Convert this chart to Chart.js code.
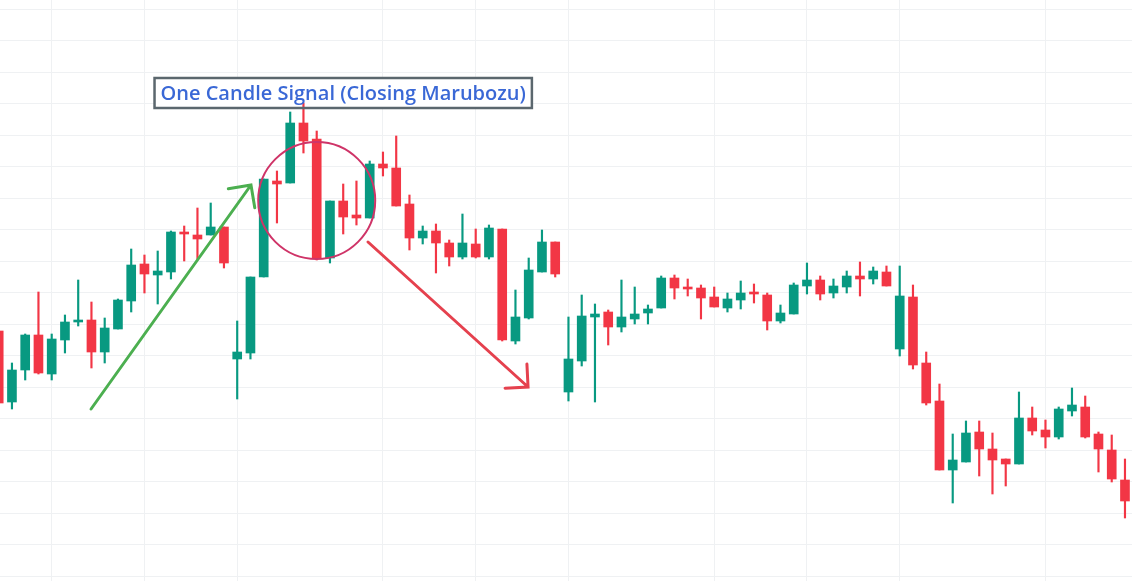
<!DOCTYPE html>
<html>
<head>
<meta charset="utf-8">
<script src="https://cdn.jsdelivr.net/npm/chart.js@4.4.1/dist/chart.umd.min.js"></script>
<style>
  html, body { margin: 0; padding: 0; background: #fff; }
  #wrap { width: 1132px; height: 581px; }
</style>
</head>
<body>
<div id="wrap"><canvas id="candle_chart"></canvas></div>
<script>
// OHLC per session
const open_prices = [
  26.9, 19.8, 23.0, 26.5, 22.6, 26.0, 27.8, 28.0, 24.8, 27.1,
  29.9, 33.6, 32.5, 32.8, 36.7, 36.5, 36.5, 37.3, 24.1, 24.7,
  32.3, 41.9, 41.7, 47.7, 46.1, 34.2, 39.9, 38.5, 38.2, 43.6,
  43.2, 39.6, 36.2, 36.9, 35.7, 34.3, 35.6, 34.3, 37.1, 25.9,
  28.2, 32.8, 35.8, 20.8, 23.9, 28.3, 28.8, 27.3, 28.1, 28.7,
  29.2, 32.2, 31.3, 31.2, 30.3, 29.2, 30.0, 30.7, 30.5, 27.9,
  28.6, 31.4, 32.0, 30.7, 31.3, 32.4, 32.1, 32.8, 25.1, 30.3,
  23.7, 19.9, 13.0, 13.8, 16.8, 15.1, 14.1, 13.6, 18.2, 17.0,
  16.3, 18.9, 19.3, 16.6, 15.0, 12.0
];
const high_prices = [
  27.3, 23.7, 26.6, 30.8, 26.6, 28.5, 32.0, 29.8, 28.2, 30.1,
  35.1, 34.5, 34.9, 36.9, 37.4, 39.2, 39.7, 37.3, 27.9, 32.3,
  42.1, 42.9, 48.8, 49.7, 46.9, 39.9, 41.6, 41.9, 43.9, 44.8,
  46.4, 40.5, 37.4, 37.6, 36.0, 38.6, 37.1, 37.5, 37.1, 31.0,
  34.2, 37.0, 35.8, 28.3, 30.5, 29.6, 29.0, 32.0, 31.3, 29.5,
  32.4, 32.5, 32.1, 31.5, 31.3, 30.7, 31.9, 31.6, 30.7, 29.5,
  31.7, 33.7, 32.4, 32.1, 32.9, 33.8, 33.3, 33.4, 33.4, 31.5,
  24.8, 21.6, 16.6, 17.9, 17.9, 16.7, 14.1, 20.8, 19.3, 18.0,
  19.3, 21.2, 20.4, 16.8, 16.5, 14.1
];
const low_prices = [
  19.4, 19.1, 22.0, 22.6, 22.0, 24.7, 27.4, 23.2, 23.7, 27.1,
  28.8, 30.7, 29.6, 32.1, 33.9, 34.1, 36.5, 33.2, 20.1, 24.1,
  32.3, 37.7, 41.7, 44.7, 34.0, 33.7, 36.6, 37.5, 38.2, 42.4,
  39.4, 35.0, 35.6, 32.7, 33.4, 34.1, 34.2, 34.1, 25.9, 25.6,
  28.1, 32.8, 32.3, 19.9, 23.4, 19.8, 25.5, 26.8, 27.6, 27.6,
  29.2, 30.1, 30.4, 28.1, 29.3, 28.8, 29.1, 29.7, 27.0, 27.7,
  28.6, 30.6, 30.0, 30.2, 30.7, 30.4, 31.6, 31.4, 24.4, 23.1,
  19.5, 13.0, 9.7, 13.8, 12.4, 10.6, 11.4, 13.6, 16.5, 15.2,
  16.1, 18.4, 16.2, 12.8, 11.8, 8.2
];
const close_prices = [
  19.7, 23.0, 26.5, 22.7, 26.1, 27.8, 27.9, 24.8, 27.2, 30.0,
  33.5, 32.6, 32.9, 36.8, 36.6, 36.1, 37.3, 33.7, 24.8, 32.3,
  42.1, 41.6, 47.7, 45.9, 34.2, 39.9, 38.3, 38.2, 43.6, 43.2,
  39.4, 36.2, 36.9, 35.7, 34.3, 35.7, 34.3, 37.2, 26.0, 28.3,
  33.0, 35.8, 32.6, 24.1, 28.4, 28.6, 27.3, 28.3, 28.6, 29.1,
  32.2, 31.2, 31.1, 30.2, 29.3, 30.1, 30.7, 30.6, 27.9, 28.7,
  31.5, 32.0, 30.6, 31.4, 32.4, 32.1, 32.9, 31.4, 30.4, 23.5,
  19.7, 13.0, 14.0, 16.7, 15.1, 14.0, 13.6, 18.2, 16.9, 16.3,
  19.1, 19.5, 16.3, 15.1, 12.1, 9.9
];
// sessions where the vertical grid lines sit
const grid_days = [4, 11, 18, 29, 36, 43, 54, 61, 68, 79];
const signal_text = 'One Candle Signal (Closing Marubozu)';

const up_color = '#089981';
const down_color = '#f23645';

const body_data = [];
const wick_data = [];
open_prices.forEach((o, i) => {
  body_data.push({x: i, y: [o, close_prices[i]]});
  wick_data.push({x: i, y: [low_prices[i], high_prices[i]]});
});

function candle_color(ctx) {
  const i = ctx.dataIndex;
  if (i === undefined) return up_color;
  return close_prices[i] >= open_prices[i] ? up_color : down_color;
}

// drawing overlays, anchored in data space
const marks = {
  label: {x: 26.0, y: 50.7},
  circle: {x: 24.0, y: 39.95, r: 58.5, color: '#cf3468'},
  up_arrow: {from: [6.97, 19.1], to: [19.04, 41.5], color: '#4caf50'},
  down_arrow: {from: [27.87, 35.8], to: [39.95, 21.3], color: '#e5414e'}
};
const label_font = '600 20px "Open Sans"';

function draw_arrow(ctx, sx, sy, a) {
  const x1 = sx.getPixelForValue(a.from[0]);
  const x2 = sx.getPixelForValue(a.to[0]);
  const y1 = sy.getPixelForValue(a.from[1]);
  const y2 = sy.getPixelForValue(a.to[1]);
  const ang = Math.atan2(y1 - y2, x1 - x2);
  const head = 23;
  ctx.save();
  ctx.strokeStyle = a.color;
  ctx.lineWidth = 3;
  ctx.lineCap = 'round';
  ctx.beginPath();
  ctx.moveTo(x1, y1);
  ctx.lineTo(x2, y2);
  ctx.moveTo(x2 + head * Math.cos(ang + Math.PI / 4), y2 + head * Math.sin(ang + Math.PI / 4));
  ctx.lineTo(x2, y2);
  ctx.lineTo(x2 + head * Math.cos(ang - Math.PI / 4), y2 + head * Math.sin(ang - Math.PI / 4));
  ctx.stroke();
  ctx.restore();
}

function label_box(chart) {
  const ctx = chart.ctx;
  const cx = chart.scales.x.getPixelForValue(marks.label.x);
  const cy = chart.scales.y.getPixelForValue(marks.label.y);
  ctx.save();
  ctx.font = label_font;
  const w = ctx.measureText(signal_text).width + 12;
  ctx.restore();
  return {cx, cy, w, h: 30};
}

const overlay_plugin = {
  id: 'overlay',
  beforeDatasetsDraw(chart) {
    const ctx = chart.ctx;
    const b = label_box(chart);
    ctx.save();
    ctx.fillStyle = '#ffffff';
    ctx.fillRect(b.cx - b.w / 2, b.cy - b.h / 2, b.w, b.h);
    ctx.restore();
  },
  afterDatasetsDraw(chart) {
    const ctx = chart.ctx;
    const sx = chart.scales.x, sy = chart.scales.y;

    const c = marks.circle;
    ctx.save();
    ctx.strokeStyle = c.color;
    ctx.lineWidth = 2;
    ctx.beginPath();
    ctx.arc(sx.getPixelForValue(c.x), sy.getPixelForValue(c.y), c.r, 0, Math.PI * 2);
    ctx.stroke();
    ctx.restore();

    draw_arrow(ctx, sx, sy, marks.up_arrow);
    draw_arrow(ctx, sx, sy, marks.down_arrow);

    const b = label_box(chart);
    ctx.save();
    ctx.strokeStyle = '#5b676e';
    ctx.lineWidth = 2.5;
    ctx.strokeRect(b.cx - b.w / 2, b.cy - b.h / 2, b.w, b.h);
    ctx.fillStyle = '#3a68d6';
    ctx.font = label_font;
    ctx.textAlign = 'center';
    ctx.textBaseline = 'middle';
    ctx.fillText(signal_text, b.cx, b.cy + 1);
    ctx.restore();
  }
};

const candle_ctx = document.getElementById('candle_chart');

const candle_config = {
  type: 'bar',
  data: {
    datasets: [
      {
        data: body_data,
        backgroundColor: candle_color,
        barThickness: 9,
        minBarLength: 2,
        borderWidth: 0,
        grouped: false
      },
      {
        data: wick_data,
        backgroundColor: candle_color,
        barThickness: 1.5,
        borderWidth: 0,
        grouped: false
      }
    ]
  },
  options: {
    responsive: true,
    maintainAspectRatio: false,
    animation: false,
    events: [],
    layout: { padding: 0 },
    plugins: {
      legend: { display: false },
      tooltip: { enabled: false }
    },
    scales: {
      x: {
        type: 'linear',
        min: 0.098,
        max: 85.53,
        offset: false,
        border: { display: false },
        ticks: { display: false },
        grid: { color: '#eff1f3', drawTicks: false, offset: false },
        afterBuildTicks: scale => {
          scale.ticks = grid_days.map(d => ({value: d}));
        }
      },
      y: {
        min: 1.9,
        max: 60,
        border: { display: false },
        ticks: { display: false },
        grid: { color: '#eff1f3', drawTicks: false },
        afterBuildTicks: scale => {
          const t = [];
          for (let v = 2.4; v < 60; v += 3.15) t.push({value: v});
          scale.ticks = t;
        }
      }
    }
  },
  plugins: [overlay_plugin]
};

const candle_chart = new Chart(candle_ctx, candle_config);
</script>
</body>
</html>
